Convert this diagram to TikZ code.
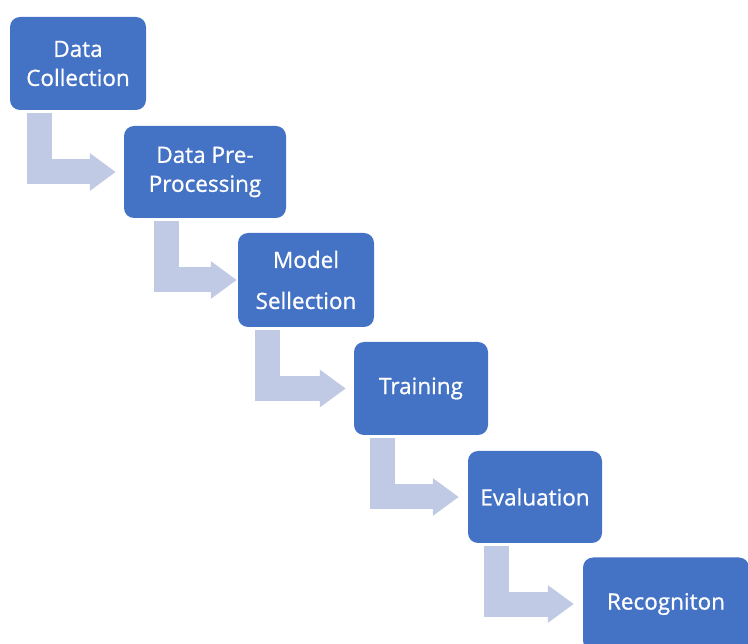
\documentclass[tikz,border=0pt]{standalone}
\usepackage{fontspec}
\setmainfont{Open Sans}
\newfontfamily\stagefont{Open Sans}[FakeBold=0.9]
\usetikzlibrary{arrows.meta}

\definecolor{boxblue}{RGB}{68,114,196}
\definecolor{flowgray}{RGB}{192,202,228}

\tikzset{
  stage/.style={fill=boxblue, rounded corners=10pt, text=white, align=center,
    font=\stagefont\fontsize{22.5}{29}\selectfont, inner sep=0pt},
  flow/.style={draw=flowgray, line width=25pt, line join=miter,
    -{Triangle[width=36pt,length=26pt]}},
}

\begin{document}
\begin{tikzpicture}[x=1pt,y=-1pt]
    \clip (0,0) rectangle (748,644);
    \useasboundingbox (0,0) rectangle (748,644);

    % pipeline stages
    \node[stage, minimum width=136pt, minimum height=93pt] (collect) at (78,63.5) {Data\\Collection};
    \node[stage, minimum width=162pt, minimum height=92pt] (prep) at (205,172) {Data Pre-\\Processing};
    \node[stage, minimum width=136pt, minimum height=94pt] (model) at (306,280) {Model\\[12pt]Sellection};
    \node[stage, minimum width=134pt, minimum height=93pt] (train) at (421,388.5) {Training};
    \node[stage, minimum width=134pt, minimum height=92pt] (eval) at (535,497) {Evaluation};
    \node[stage, minimum width=166pt, minimum height=93pt] (recog) at (666,604) {Recogniton};

    % bent arrows between stages
    \foreach \a/\b/\gap in {collect/prep/8,prep/model/1,model/train/8,train/eval/9,eval/recog/9}{
        \draw[flow] ([xshift=-39pt,yshift=-3pt]\a.south) |- ([xshift=-\gap pt]\b.west);
    }
\end{tikzpicture}
\end{document}
